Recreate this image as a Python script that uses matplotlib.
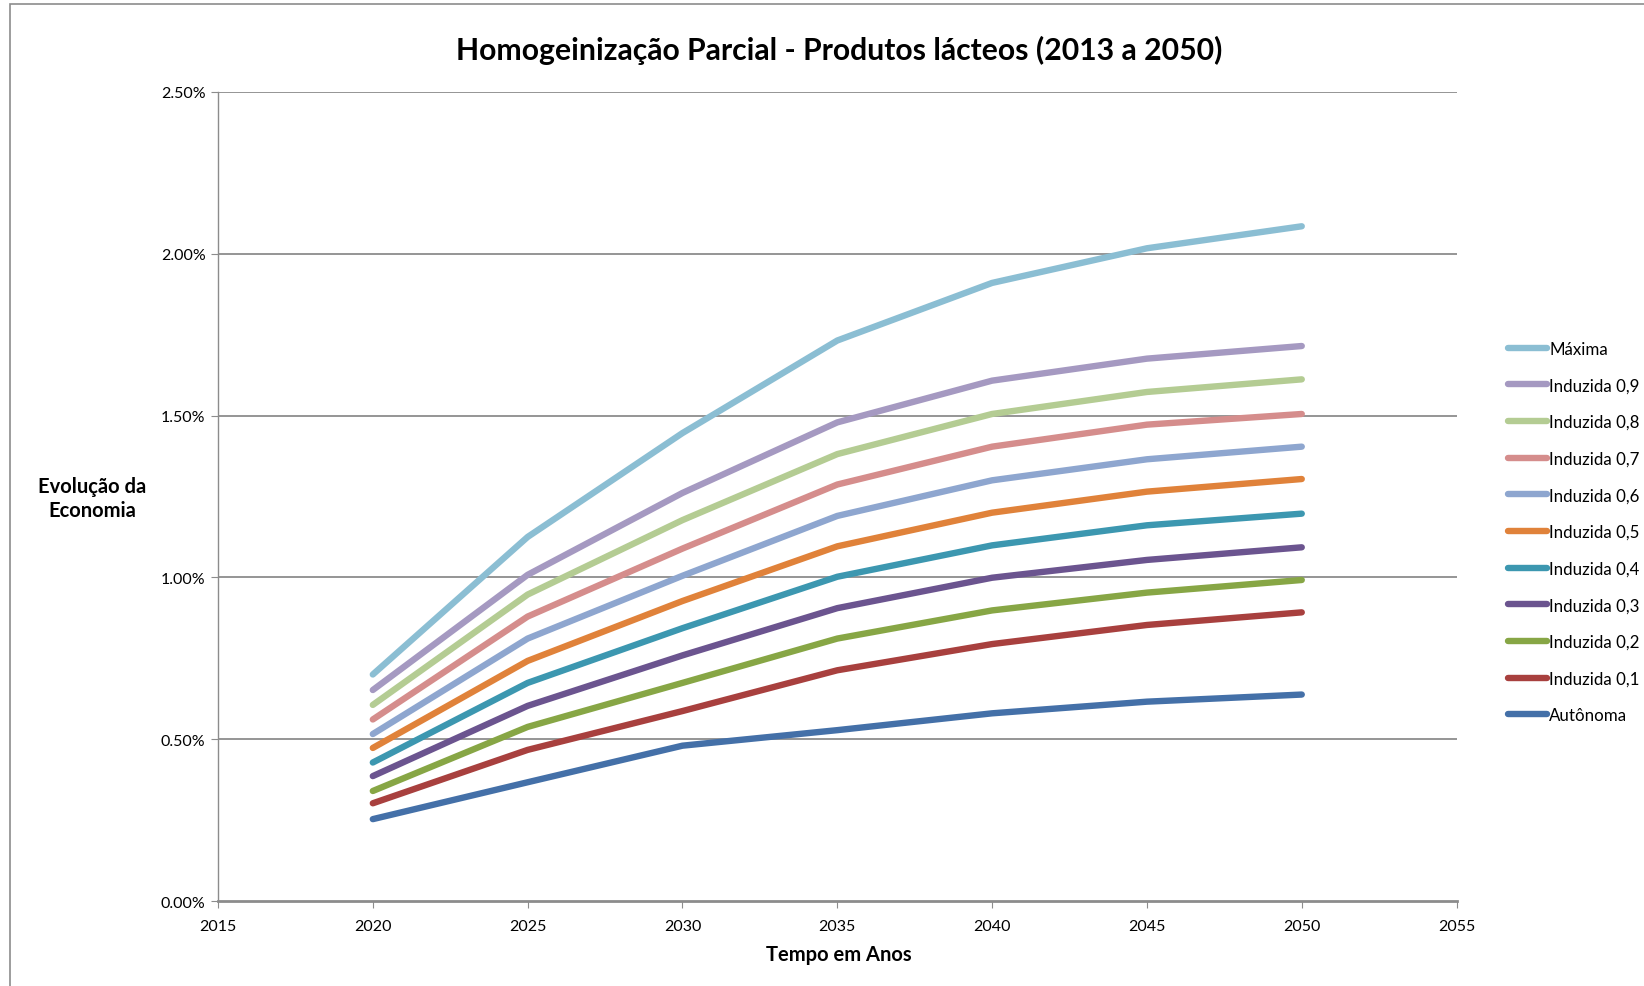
import matplotlib
matplotlib.use("Agg")
import matplotlib.pyplot as plt
from matplotlib.patches import Rectangle
from matplotlib.lines import Line2D

years = [2020, 2025, 2030, 2035, 2040, 2045, 2050]

series_names = ["Máxima", "Induzida 0,9", "Induzida 0,8", "Induzida 0,7", "Induzida 0,6",
                "Induzida 0,5", "Induzida 0,4", "Induzida 0,3", "Induzida 0,2",
                "Induzida 0,1", "Autônoma"]

maxima = [0.700, 1.125, 1.446, 1.732, 1.910, 2.017, 2.085]
ind09 = [0.652, 1.008, 1.261, 1.479, 1.608, 1.676, 1.715]
ind08 = [0.606, 0.947, 1.177, 1.381, 1.505, 1.573, 1.612]
ind07 = [0.561, 0.879, 1.089, 1.287, 1.404, 1.472, 1.505]
ind06 = [0.516, 0.811, 1.005, 1.190, 1.300, 1.365, 1.404]
ind05 = [0.473, 0.742, 0.927, 1.096, 1.200, 1.265, 1.304]
ind04 = [0.428, 0.674, 0.843, 1.002, 1.099, 1.161, 1.197]
ind03 = [0.386, 0.603, 0.759, 0.905, 0.999, 1.054, 1.093]
ind02 = [0.340, 0.538, 0.674, 0.811, 0.898, 0.953, 0.992]
ind01 = [0.302, 0.467, 0.587, 0.713, 0.794, 0.853, 0.892]
autonoma = [0.253, 0.367, 0.480, 0.528, 0.580, 0.616, 0.638]

series_values = [maxima, ind09, ind08, ind07, ind06, ind05, ind04, ind03, ind02, ind01, autonoma]

colors = ["#8BBED3", "#A599C1", "#B4CC93", "#D58D8C", "#8EA6CF", "#E0823A",
          "#3C97B0", "#6B548F", "#87A645", "#A8403E", "#4470A8"]

y_ticks = [0.0, 0.5, 1.0, 1.5, 2.0, 2.5]
y_tick_labels = ["0.00%", "0.50%", "1.00%", "1.50%", "2.00%", "2.50%"]
x_ticks = [2015, 2020, 2025, 2030, 2035, 2040, 2045, 2050, 2055]

plt.rcParams['font.family'] = ['Lato', 'DejaVu Sans']

fig = plt.figure(figsize=(16.44, 9.87), dpi=100)
ax = fig.add_axes([0.1326, 0.0861, 0.886 - 0.1326, 0.9058 - 0.0861])

# outer chart border
fig.patches.append(Rectangle((10 / 1644, -0.05), 1.2, 1 - 5 / 987 + 0.05,
                             transform=fig.transFigure, fill=False,
                             edgecolor="#8c8c8c", linewidth=1.2))

for i in range(len(series_values) - 1, -1, -1):
    ax.plot(years, series_values[i], color=colors[i], linewidth=4.6,
            solid_capstyle="round", solid_joinstyle="round", zorder=3)

ax.set_xlim(2015, 2055)
ax.set_ylim(0, 2.5)
ax.set_yticks(y_ticks)
ax.set_yticklabels(y_tick_labels)
ax.set_xticks(x_ticks)
ax.set_xticklabels([str(x) for x in x_ticks])

for y in y_ticks[1:]:
    ax.axhline(y, color="#8c8c8c", linewidth=1.3, zorder=1)

for s in ["top", "right"]:
    ax.spines[s].set_visible(False)
ax.spines["left"].set_color("#8c8c8c")
ax.spines["left"].set_linewidth(1.0)
ax.spines["bottom"].set_color("#8c8c8c")
ax.spines["bottom"].set_linewidth(2.0)
ax.tick_params(axis="both", direction="out", color="#8c8c8c", length=5,
               labelsize=11.5, labelcolor="black")
ax.tick_params(axis="x", pad=8)
ax.tick_params(axis="y", pad=4)

fig.text(839 / 1644, 1 - 50 / 987, "Homogeinização Parcial - Produtos lácteos (2013 a 2050)",
         ha="center", va="center", fontsize=21.7, fontweight="bold")
fig.text(92 / 1644, 1 - 499 / 987, "Evolução da\nEconomia", ha="center", va="center",
         fontsize=14.5, fontweight="bold", linespacing=1.3)
fig.text(839 / 1644, 1 - 955 / 987, "Tempo em Anos", ha="center", va="center",
         fontsize=14.5, fontweight="bold")

handles = [Line2D([0], [0], color=c, linewidth=4.6, solid_capstyle="round") for c in colors]
leg = fig.legend(handles, series_names, loc="center left",
                 bbox_to_anchor=(1500 / 1644, 1 - 533 / 987), frameon=False,
                 fontsize=12.2, handlelength=2.3, handletextpad=0.1,
                 labelspacing=1.22, borderpad=0)

fig.savefig("out.png", dpi=100)
